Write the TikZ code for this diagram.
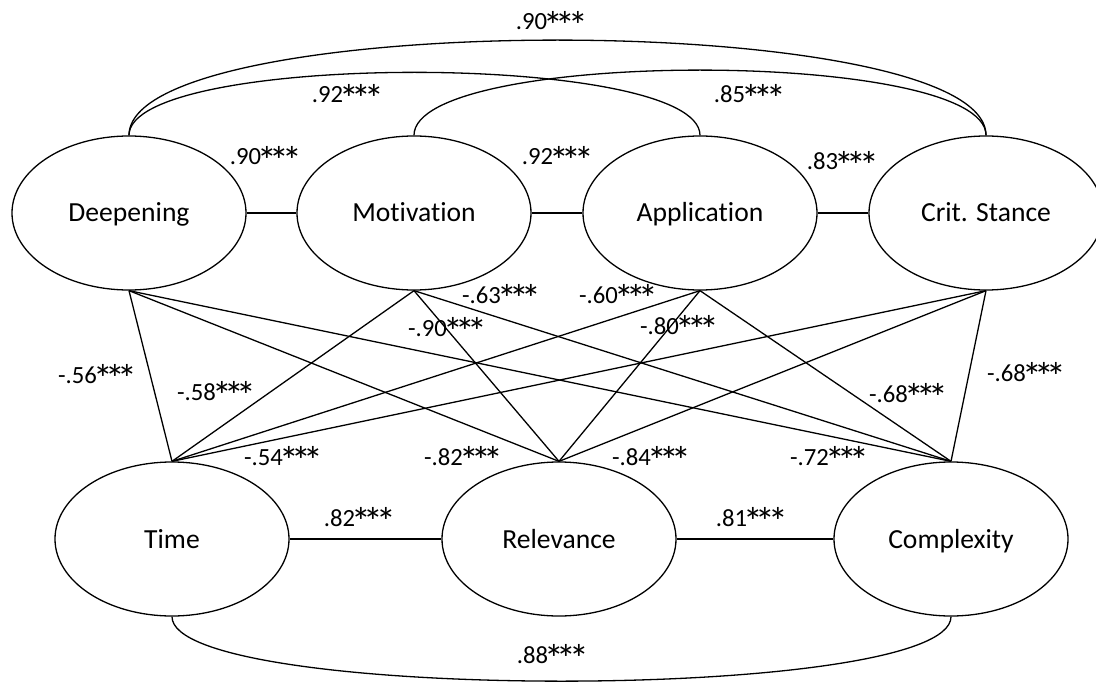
\documentclass[tikz,border=0pt]{standalone}
\usepackage{fontspec}
\usepackage{graphicx}
\setmainfont{Carlito}[Ligatures=NoCommon]
\usetikzlibrary{shapes.geometric}
\newcommand\onestar{\makebox[0.5em]{\raisebox{-0.40em}{\scalebox{1.6}{*}}}}
\newcommand\threestars{\onestar\onestar\onestar}
\begin{document}
\begin{tikzpicture}[x=1pt,y=-1pt,line width=1.3pt,
  latent/.style={ellipse,draw,minimum width=234pt,minimum height=154pt,inner sep=0pt,
    text height=18pt,text depth=0pt,font=\fontsize{27.6}{33}\selectfont},
  lbl/.style={inner sep=0pt,text height=16pt,text depth=0pt,font=\fontsize{24.7}{30}\selectfont}]
\useasboundingbox (0,0) rectangle (1096,682);
\clip (0,0) rectangle (1096,682);
% latent variables
\node[latent] (D) at (129,213) {Deepening};
\node[latent] (M) at (414,213) {Motivation};
\node[latent] (A) at (700,213) {Application};
\node[latent] (C) at (986,213) {Crit. Stance};
\node[latent] (T) at (172,539) {Time};
\node[latent] (R) at (559,539) {Relevance};
\node[latent] (X) at (951,539) {Complexity};
% neighbour links
\draw (D) -- (M);
\draw (M) -- (A);
\draw (A) -- (C);
\draw (T) -- (R);
\draw (R) -- (X);
% cross links
\foreach \a in {D,M,A,C}
  \foreach \b in {T,R,X}
    \draw (\a.south) -- (\b.north);
% arcs
\draw (D.north) .. controls +(0,-127) and +(0,-127) .. (C.north);
\draw (D.north) .. controls +(0,-84) and +(0,-84) .. (A.north);
\draw (M.north) .. controls +(0,-87) and +(0,-87) .. (C.north);
\draw (T.south) .. controls +(0,86) and +(0,86) .. (X.south);
% labels
\node[lbl] (l1) at (550,22) {.90\threestars};
\node[lbl] (l2) at (346,95) {.92\threestars};
\node[lbl] (l3) at (748,95) {.85\threestars};
\node[lbl] (l4) at (264,157) {.90\threestars};
\node[lbl] (l5) at (556,157) {.92\threestars};
\node[lbl] (l6) at (841,162) {.83\threestars};
\node[lbl] (l7) at (96,375) {-.56\threestars};
\node[lbl] (l8) at (215,392) {-.58\threestars};
\node[lbl] (l9) at (282,457) {-.54\threestars};
\node[lbl] (l10) at (462,457) {-.82\threestars};
\node[lbl] (l11) at (446,328) {-.90\threestars};
\node[lbl] (l12) at (500,295) {-.63\threestars};
\node[lbl] (l13) at (617,295) {-.60\threestars};
\node[lbl] (l14) at (678,326) {-.80\threestars};
\node[lbl] (l15) at (650,457) {-.84\threestars};
\node[lbl] (l16) at (828,457) {-.72\threestars};
\node[lbl] (l17) at (907,394) {-.68\threestars};
\node[lbl] (l18) at (1025,373) {-.68\threestars};
\node[lbl] (l19) at (358,518) {.82\threestars};
\node[lbl] (l20) at (750,518) {.81\threestars};
\node[lbl] (l21) at (551,655) {.88\threestars};
\end{tikzpicture}
\end{document}
